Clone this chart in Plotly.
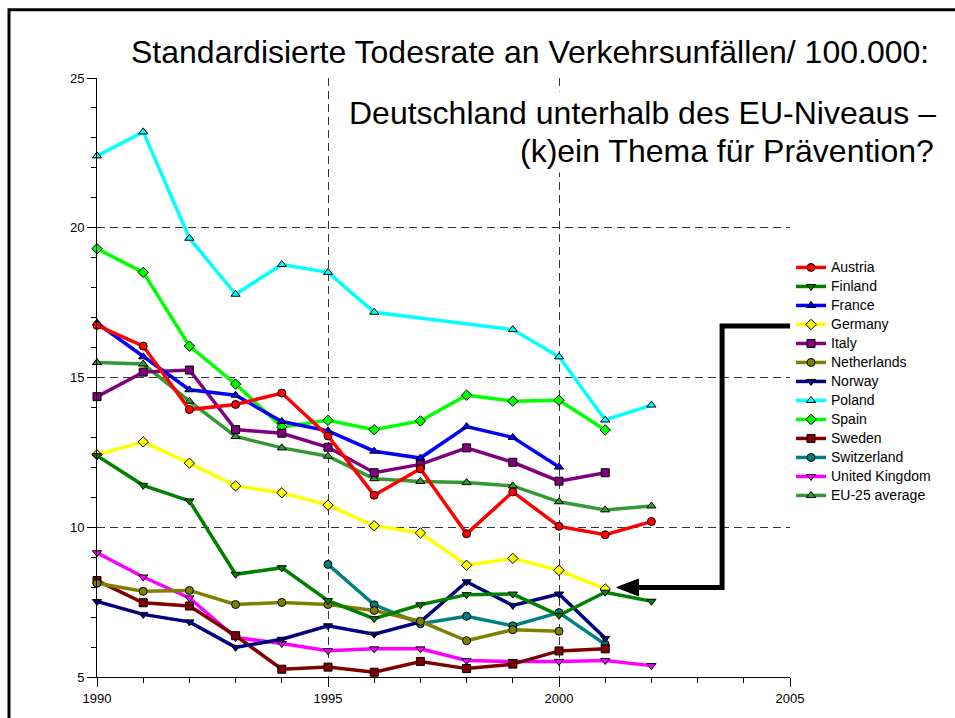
import plotly.graph_objects as go

years = list(range(1990, 2003))

austria = [16.74, 16.05, 13.93, 14.10, 14.48, 13.05, 11.07, 11.95, 9.78, 11.18, 10.03, 9.75, 10.19]
finland = [12.39, 11.40, 10.88, 8.43, 8.65, 7.55, 6.95, 7.41, 7.75, 7.77, 7.06, 7.83, 7.53]
france = [16.82, 15.69, 14.59, 14.41, 13.53, 13.22, 12.54, 12.31, 13.36, 13.00, 12.01, None, None]
germany = [12.42, 12.85, 12.14, 11.38, 11.15, 10.74, 10.05, 9.81, 8.73, 8.96, 8.56, 7.94, None]
italy = [14.36, 15.18, 15.25, 13.26, 13.14, 12.67, 11.82, 12.10, 12.65, 12.17, 11.54, 11.82, None]
netherlands = [8.13, 7.86, 7.89, 7.42, 7.49, 7.42, 7.22, 6.86, 6.21, 6.58, 6.53, None, None]
norway = [7.52, 7.09, 6.84, 5.99, 6.26, 6.71, 6.43, 6.84, 8.18, 7.39, 7.77, 6.29, None]
poland = [22.40, 23.20, 19.65, 17.78, 18.77, 18.51, 17.18, None, None, 16.60, 15.69, 13.58, 14.08]
spain = [19.30, 18.51, 16.05, 14.78, 13.35, 13.57, 13.26, 13.55, 14.41, 14.21, 14.24, 13.25, None]
sweden = [8.22, 7.48, 7.37, 6.38, 5.26, 5.33, 5.16, 5.52, 5.28, 5.43, 5.87, 5.94, None]
switzerland = [None, None, None, None, None, 8.76, 7.41, 6.78, 7.03, 6.71, 7.15, 6.09, None]
united_kingdom = [9.15, 8.34, 7.64, 6.32, 6.12, 5.88, 5.94, 5.94, 5.55, 5.52, 5.52, 5.55, 5.38]
eu25 = [15.50, 15.45, 14.21, 13.03, 12.65, 12.37, 11.62, 11.53, 11.49, 11.38, 10.85, 10.58, 10.71]

series = [
    ("Austria", austria, "#FF0000", "circle"),
    ("Finland", finland, "#008000", "triangle-down"),
    ("France", france, "#0000FF", "triangle-up"),
    ("Germany", germany, "#FFFF00", "diamond"),
    ("Italy", italy, "#800080", "square"),
    ("Netherlands", netherlands, "#808000", "circle"),
    ("Norway", norway, "#000080", "triangle-down"),
    ("Poland", poland, "#00FFFF", "triangle-up"),
    ("Spain", spain, "#00FF00", "diamond"),
    ("Sweden", sweden, "#800000", "square"),
    ("Switzerland", switzerland, "#008080", "circle"),
    ("United Kingdom", united_kingdom, "#FF00FF", "triangle-down"),
    ("EU-25 average", eu25, "#339933", "triangle-up"),
]

title_text = "Standardisierte Todesrate an Verkehrsunfällen/ 100.000:"
sub_line1 = "Deutschland unterhalb des EU-Niveaus –"
sub_line2 = "(k)ein Thema für Prävention?"

W, H = 955, 718
L, R, T, B = 97, 790, 78, 684
FONT = "Arial, 'Liberation Sans', Helvetica, sans-serif"


def px_x(px):
    return (px - L) / (R - L)


def px_y(py):
    return (B - py) / (B - T)


fig = go.Figure()
# drawn in reverse so the first series sits on top; legend shows original order
for name, vals, col, sym in reversed(series):
    fig.add_trace(go.Scatter(
        x=years, y=vals, name='<span style="font-size:14px">%s</span>' % name,
        mode="lines+markers", connectgaps=True,
        line=dict(color=col, width=3.5),
        marker=dict(symbol=sym, size=8, color=col, line=dict(color="black", width=1)),
        cliponaxis=False,
    ))

dash = "8px,5px"
fig.update_layout(
    width=W, height=H,
    margin=dict(l=L, r=W - R, t=T, b=H - B, pad=0),
    paper_bgcolor="white", plot_bgcolor="white",
    font=dict(family=FONT, color="black"),
    showlegend=True,
    legend=dict(
        x=px_x(791), y=px_y(255), xanchor="left", yanchor="top",
        font=dict(size=12, family=FONT), bgcolor="rgba(0,0,0,0)",
        itemwidth=30, tracegroupgap=0, traceorder="reversed",
    ),
    xaxis=dict(
        range=[1990, 2005], tickvals=[1990, 1995, 2000, 2005],
        showline=True, linecolor="black", linewidth=1,
        ticks="outside", ticklen=9, tickcolor="black",
        tickfont=dict(size=13, family=FONT),
        showgrid=True, gridcolor="#333333", gridwidth=1, griddash=dash,
        minor=dict(dtick=1, ticks="outside", ticklen=5, tickcolor="black", showgrid=False),
        zeroline=False,
    ),
    yaxis=dict(
        range=[5, 25], tickvals=[5, 10, 15, 20, 25],
        showline=True, linecolor="black", linewidth=1,
        ticks="outside", ticklen=9, tickcolor="black",
        tickfont=dict(size=13, family=FONT),
        showgrid=True, gridcolor="#333333", gridwidth=1, griddash=dash,
        minor=dict(dtick=1, ticks="outside", ticklen=5, tickcolor="black", showgrid=False),
        zeroline=False,
    ),
)

# outer frame (left and top edges visible in the picture)
fig.add_shape(type="path", xref="paper", yref="paper",
              path="M %f,%f L %f,%f L %f,%f" % (px_x(9), px_y(760), px_x(9), px_y(9), px_x(1000), px_y(9)),
              line=dict(color="black", width=3), layer="above")

# arrow (pointer to Germany 2001)
fig.add_shape(type="path", xref="x", yref="y",
              path="M 2005,16.72 L 2003.53,16.72 L 2003.53,7.99 L 2001.6,7.99",
              line=dict(color="black", width=5), layer="above")
fig.add_shape(type="path", xref="x", yref="y",
              path="M 2001.25,7.99 L 2001.72,8.27 L 2001.72,7.71 Z",
              line=dict(color="black", width=1), fillcolor="black", layer="above")

fig.add_annotation(text=title_text, xref="paper", yref="paper",
                   x=px_x(530), y=px_y(51.5), xanchor="center", yanchor="middle",
                   showarrow=False, font=dict(size=32, family=FONT, color="black"))
fig.add_annotation(text=sub_line1, xref="paper", yref="paper",
                   x=px_x(940), y=px_y(113), xanchor="right", yanchor="middle",
                   showarrow=False, bgcolor="white", borderpad=3,
                   font=dict(size=32, family=FONT, color="black"))
fig.add_annotation(text=sub_line2, xref="paper", yref="paper",
                   x=px_x(938), y=px_y(152), xanchor="right", yanchor="middle",
                   showarrow=False, bgcolor="white", borderpad=3,
                   font=dict(size=32, family=FONT, color="black"))

fig.write_html(
    "out.html",
    config={"displayModeBar": False},
    post_script="document.body.style.margin='0';document.body.style.overflow='hidden';",
)
